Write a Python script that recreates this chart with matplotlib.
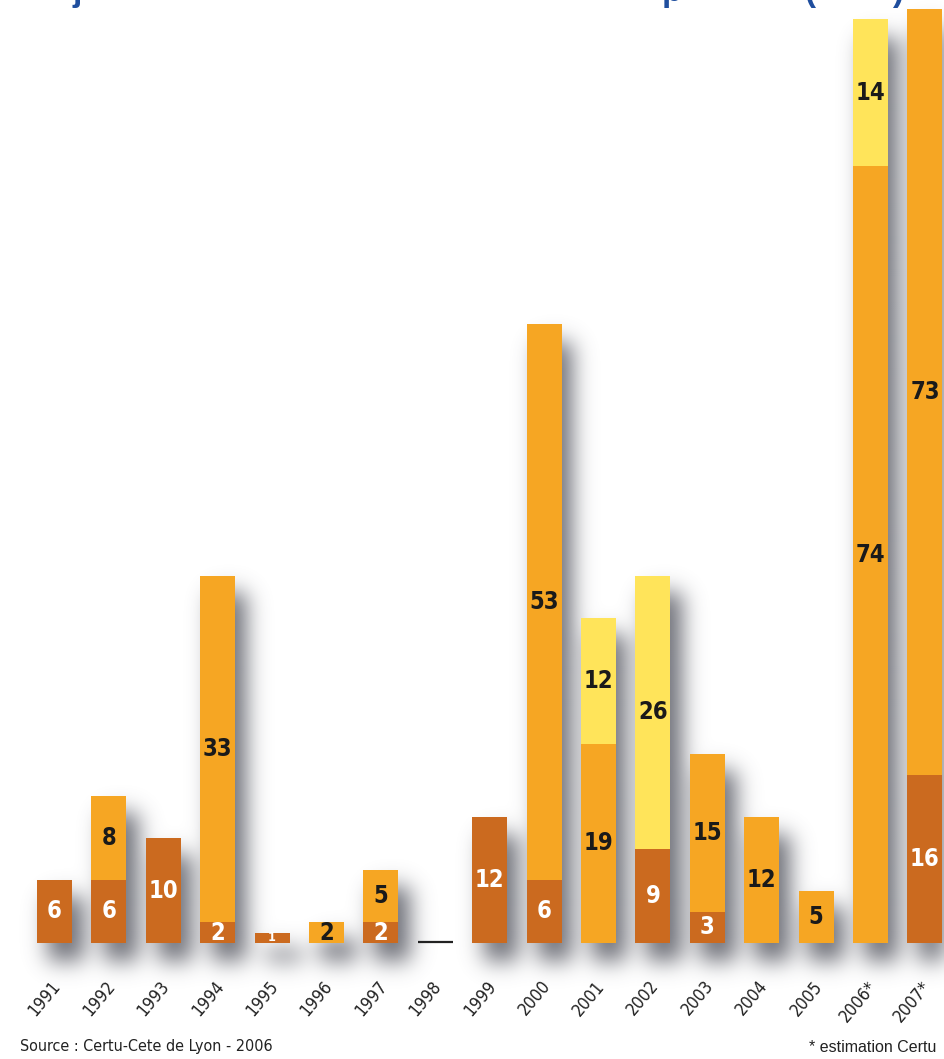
import numpy as np
import matplotlib
matplotlib.use("Agg")
import matplotlib.pyplot as plt

# ---------------- data ----------------
years = ['1991', '1992', '1993', '1994', '1995', '1996', '1997', '1998', '1999',
         '2000', '2001', '2002', '2003', '2004', '2005', '2006*', '2007*']
dark = [6, 6, 10, 2, 1, 0, 2, 0, 12, 6, 0, 9, 3, 0, 0, 0, 16]
orange = [0, 8, 0, 33, 0, 2, 5, 0, 0, 53, 19, 0, 15, 12, 5, 74, 73]
yellow = [0, 0, 0, 0, 0, 0, 0, 0, 0, 0, 12, 26, 0, 0, 0, 14, 0]
source_text = "Source : Certu-Cete de Lyon - 2006"
note_text = "* estimation Certu"
title_glyphs = ['j', 'p', '(', ')']

# ---------------- style ----------------
C_DARK = '#CB6A1F'
C_ORANGE = '#F6A623'
C_YELLOW = '#FFE45A'
C_BLUE = '#1F4E9E'
COND = dict(family='DejaVu Sans', stretch='condensed')
REG = ['Liberation Sans', 'DejaVu Sans']

W_PX, H_PX = 944, 1059
X0, SPX = 54.5, 54.4          # first bar centre (px) and spacing (px)
BASE, KPX = 943.0, 10.5       # baseline (px from top), px per unit
BAR_W = 0.645

fig = plt.figure(figsize=(W_PX / 100, H_PX / 100), dpi=100)
fig.patch.set_facecolor('white')
ax = fig.add_axes([0, 0, 1, 1])
xlim = (-X0 / SPX, (W_PX - X0) / SPX)
ylim = (-(H_PX - BASE) / KPX, BASE / KPX)
ax.set_xlim(*xlim)
ax.set_ylim(*ylim)
ax.axis('off')

x = np.arange(len(years))
dark_a = np.array(dark, float)
orange_a = np.array(orange, float)
yellow_a = np.array(yellow, float)
total = dark_a + orange_a + yellow_a

# ---------------- soft drop shadow computed from the bars ----------------
nx, ny = W_PX // 2, H_PX // 2
gx = np.linspace(xlim[0], xlim[1], nx)
gy = np.linspace(ylim[0], ylim[1], ny)
GX, GY = np.meshgrid(gx, gy)
mask = np.zeros_like(GX)
dx = 11 / SPX
dy = -18 / KPX
for xi, t in zip(x, total):
    if t <= 0:
        continue
    inside = ((GX >= xi - BAR_W / 2 + dx) & (GX <= xi + BAR_W / 2 + dx) &
              (GY >= 0 + dy) & (GY <= t + dy))
    mask[inside] = 1.0
sig = 11 / 2.0  # in grid cells
kr = np.arange(-int(4 * sig), int(4 * sig) + 1)
kern = np.exp(-0.5 * (kr / sig) ** 2)
kern /= kern.sum()
blur = np.apply_along_axis(lambda r: np.convolve(r, kern, mode='same'), 1, mask)
blur = np.apply_along_axis(lambda c: np.convolve(c, kern, mode='same'), 0, blur)
rgba = np.zeros((ny, nx, 4))
rgba[..., 0] = 80 / 255
rgba[..., 1] = 82 / 255
rgba[..., 2] = 92 / 255
rgba[..., 3] = 0.85 * blur
ax.imshow(rgba, extent=(xlim[0], xlim[1], ylim[0], ylim[1]), origin='lower',
          aspect='auto', interpolation='bilinear', zorder=1)

# ---------------- bars ----------------
ax.bar(x, dark_a, width=BAR_W, color=C_DARK, zorder=3, linewidth=0)
ax.bar(x, orange_a, width=BAR_W, bottom=dark_a, color=C_ORANGE, zorder=3, linewidth=0)
ax.bar(x, yellow_a, width=BAR_W, bottom=dark_a + orange_a, color=C_YELLOW, zorder=3,
       linewidth=0)
for xi, t in zip(x, total):
    if t == 0:
        ax.hlines(0.1, xi - BAR_W / 2, xi + BAR_W / 2, color='#222222', lw=1.6, zorder=4)

# ---------------- value labels ----------------
def seg_labels(vals, bottoms, color):
    for xi, v, b in zip(x, vals, bottoms):
        if v > 0:
            fs = 17 if v >= 2 else 9
            ax.text(xi, b + v / 2, f"{int(v)}", ha='center', va='center',
                    fontsize=fs, fontweight='bold', color=color, zorder=5, **COND)

seg_labels(dark_a, np.zeros_like(dark_a), 'white')
seg_labels(orange_a, dark_a, '#1a1a1a')
seg_labels(yellow_a, dark_a + orange_a, '#1a1a1a')

# ---------------- year labels ----------------
for xi, lab in zip(x, years):
    px = X0 + SPX * xi + 3
    ax.text(px / W_PX, 1 - 983 / H_PX, lab, transform=fig.transFigure,
            rotation=50, rotation_mode='anchor', ha='right', va='center',
            fontsize=12.5, color='#222222', zorder=5, **COND)

# ---------------- footer ----------------
fig.text(20 / W_PX, 1 - 1046 / H_PX, source_text, ha='left', va='center',
         fontsize=11.5, color='#222222', **COND)
fig.text(936 / W_PX, 1 - 1047 / H_PX, note_text, ha='right', va='center',
         fontsize=11.5, family=REG, color='#222222')

# ---------------- clipped title remnants (title runs off the top edge) ----------------
for g, px in zip(title_glyphs, [77, 672, 810, 898]):
    fig.text(px / W_PX, 1 - 1 / H_PX, g, ha='center', va='baseline',
             fontsize=24, fontweight='bold', family=REG, color=C_BLUE)

fig.savefig('out.png', dpi=100, facecolor='white')
